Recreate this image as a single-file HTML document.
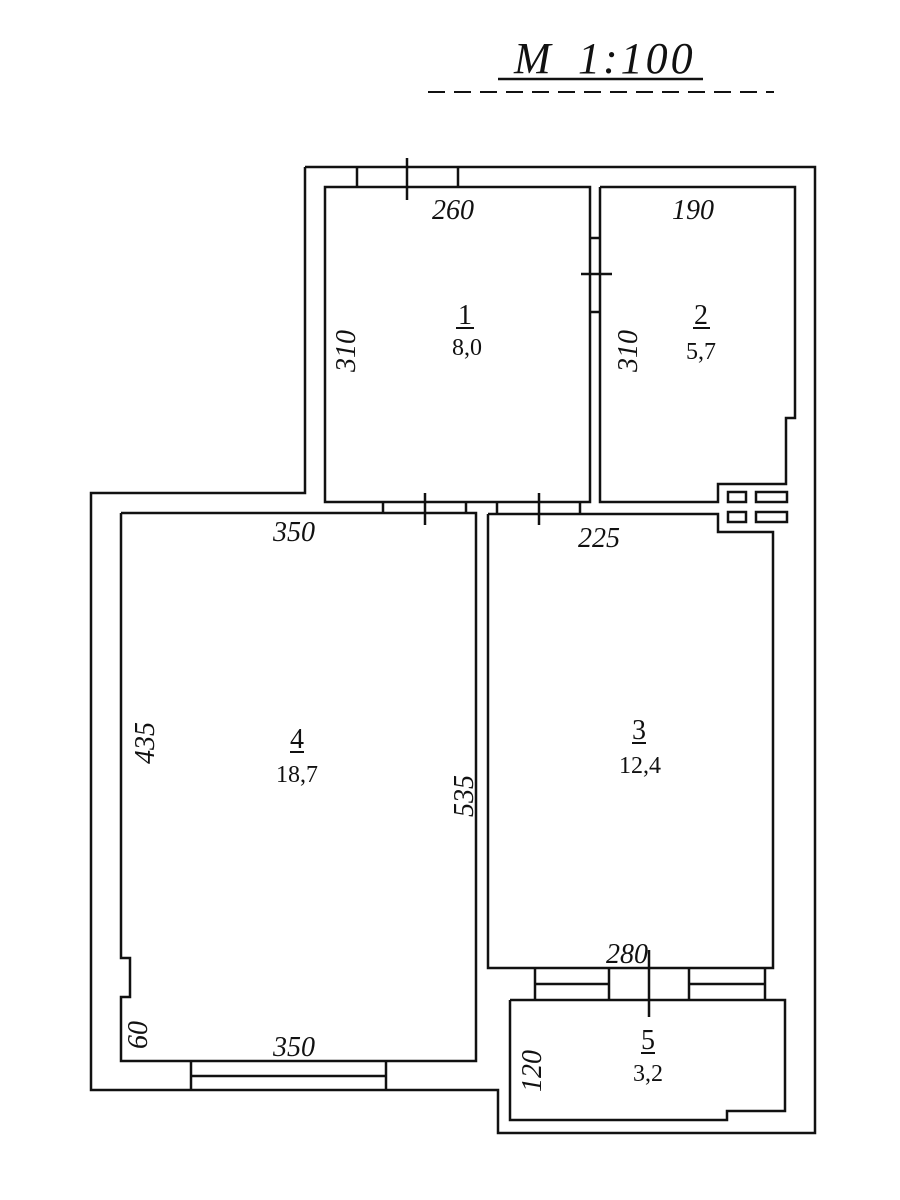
<!DOCTYPE html>
<html><head><meta charset="utf-8"><style>body{margin:0;background:#fff}svg{display:block}</style></head>
<body>
<svg width="900" height="1200" viewBox="0 0 900 1200" xmlns="http://www.w3.org/2000/svg">
<g fill="none" stroke="#111" stroke-width="2.5">
<line x1="498" y1="79" x2="703" y2="79"/>
<line x1="428" y1="92" x2="774" y2="92" stroke-width="2" stroke-dasharray="17,9"/>
<polyline points="305,167 815,167 815,1133 498,1133 498,1090 91,1090 91,493 305,493 305,167"/>
<rect x="325" y="187" width="265" height="315"/>
<polyline points="600,187 795,187 795,418 786,418 786,484 718,484 718,502 600,502 600,187"/>
<polyline points="488,514 718,514 718,532 773,532 773,968 488,968 488,514"/>
<polyline points="121,513 476,513 476,1061 121,1061 121,997 130,997 130,958 121,958 121,513"/>
<polyline points="510,1000 785,1000 785,1111 727,1111 727,1120 510,1120 510,1000"/>
<line x1="357" y1="167" x2="357" y2="187"/><line x1="458" y1="167" x2="458" y2="187"/>
<line x1="407" y1="158" x2="407" y2="200"/>
<line x1="590" y1="238" x2="600" y2="238"/><line x1="590" y1="312" x2="600" y2="312"/>
<line x1="581" y1="274" x2="612" y2="274"/>
<line x1="383" y1="502" x2="383" y2="514"/><line x1="466" y1="502" x2="466" y2="514"/>
<line x1="425" y1="493" x2="425" y2="525"/>
<line x1="497" y1="502" x2="497" y2="514"/><line x1="580" y1="502" x2="580" y2="514"/>
<line x1="539" y1="493" x2="539" y2="525"/>
<polyline points="191,1061 191,1090"/><polyline points="386,1061 386,1090"/>
<line x1="191" y1="1076" x2="386" y2="1076"/>
<line x1="535" y1="968" x2="535" y2="1000"/><line x1="609" y1="968" x2="609" y2="1000"/>
<line x1="689" y1="968" x2="689" y2="1000"/><line x1="765" y1="968" x2="765" y2="1000"/>
<line x1="535" y1="984" x2="609" y2="984"/><line x1="689" y1="984" x2="765" y2="984"/>
<line x1="649" y1="950" x2="649" y2="1017"/>
<rect x="728" y="492" width="18" height="10"/><rect x="728" y="512" width="18" height="10"/>
<rect x="756" y="492" width="31" height="10"/><rect x="756" y="512" width="31" height="10"/>
<line x1="456" y1="328" x2="474" y2="328" stroke-width="2"/>
<line x1="693" y1="328" x2="710" y2="328" stroke-width="2"/>
<line x1="290" y1="752" x2="304" y2="752" stroke-width="2"/>
<line x1="632" y1="743" x2="646" y2="743" stroke-width="2"/>
<line x1="641" y1="1053" x2="655" y2="1053" stroke-width="2"/>
</g>
<g font-family="Liberation Serif, serif" fill="#111">
<text x="514" y="73" font-size="44" font-style="italic" letter-spacing="3">M</text>
<text x="578" y="73" font-size="44" font-style="italic" letter-spacing="3">1:100</text>
<g font-style="italic" font-size="28">
<text x="432" y="219">260</text>
<text x="672" y="219">190</text>
<text x="273" y="541">350</text>
<text x="578" y="547">225</text>
<text x="606" y="963">280</text>
<text x="273" y="1056">350</text>
<text transform="translate(355,372) rotate(-90)">310</text>
<text transform="translate(637,372) rotate(-90)">310</text>
<text transform="translate(154,764) rotate(-90)">435</text>
<text transform="translate(473,817) rotate(-90)">535</text>
<text transform="translate(147,1049) rotate(-90)">60</text>
<text transform="translate(541,1092) rotate(-90)">120</text>
</g>
<g font-size="28" text-anchor="middle">
<text x="465" y="324">1</text><text x="701" y="324">2</text>
<text x="297" y="748">4</text><text x="639" y="739">3</text>
<text x="648" y="1049">5</text>
</g>
<g font-size="24" text-anchor="middle">
<text x="467" y="355">8,0</text><text x="701" y="359">5,7</text>
<text x="297" y="782">18,7</text><text x="640" y="773">12,4</text>
<text x="648" y="1081">3,2</text>
</g>
</g>
</svg>
</body></html>
